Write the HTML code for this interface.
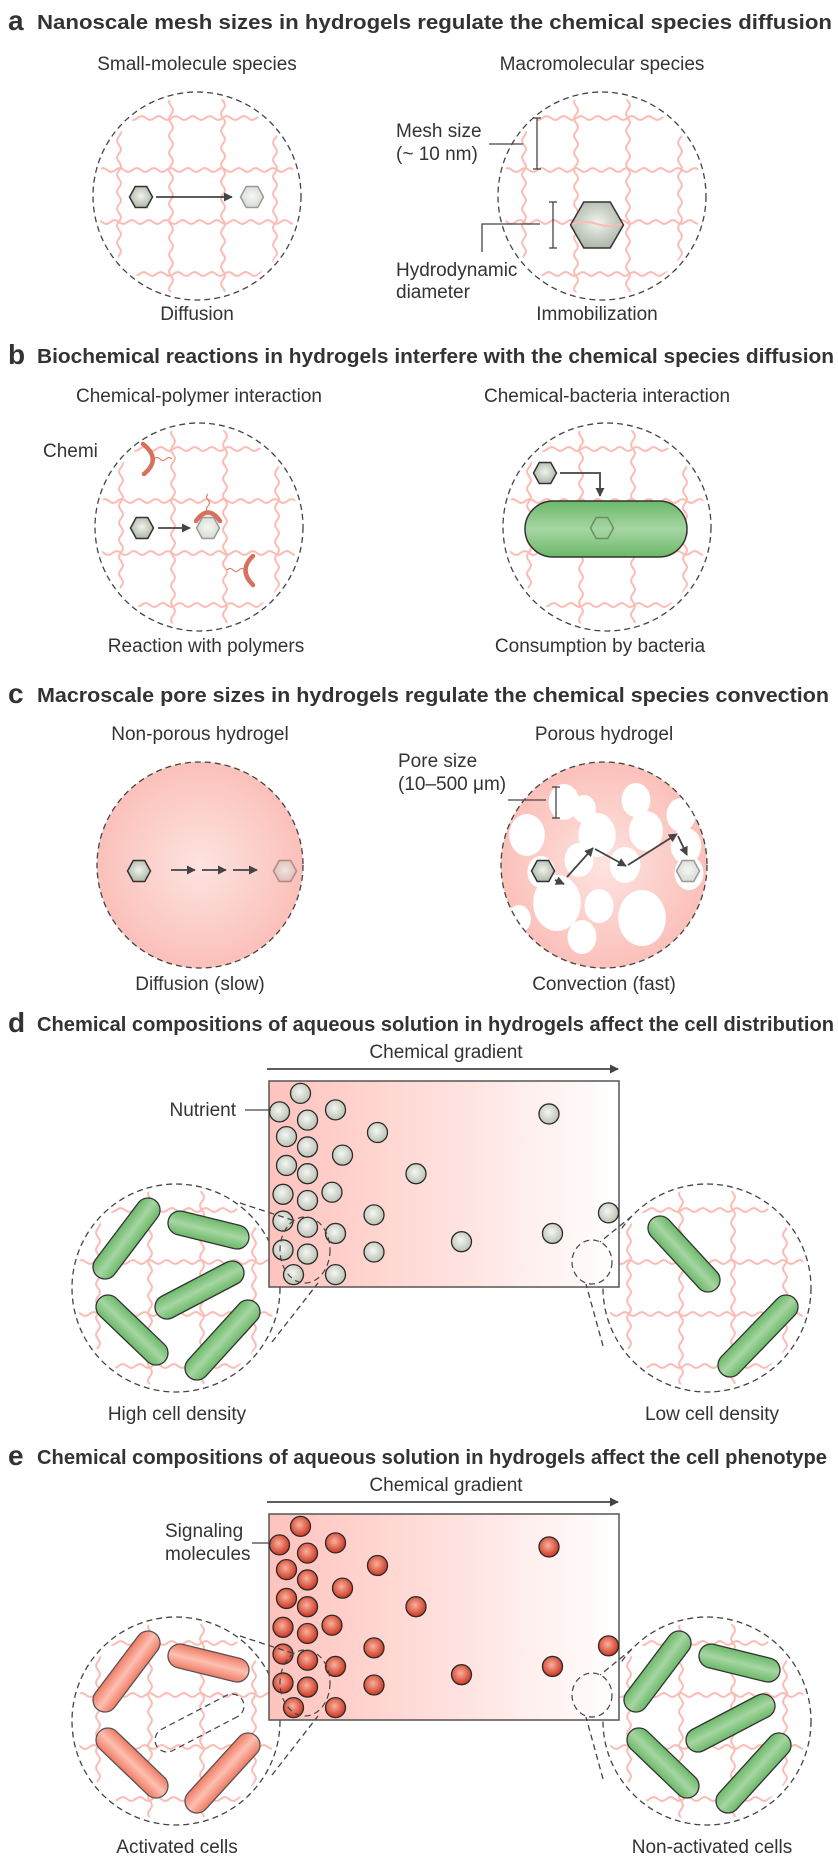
<!DOCTYPE html>
<html><head><meta charset="utf-8"><title>Hydrogel chemical species figure</title>
<style>
html,body{margin:0;padding:0;background:#fff;}
svg{display:block;}
text{font-family:"Liberation Sans",Arial,sans-serif;fill:#333;}
.title{font-weight:bold;font-size:20px;}
.letter{font-weight:bold;font-size:28px;}
.lab{font-size:19px;}
</style></head>
<body>
<svg id="fig" width="838" height="1861" viewBox="0 0 838 1861" xmlns="http://www.w3.org/2000/svg">
<defs>
<radialGradient id="gHexDark" cx="0.5" cy="0.45" r="0.6"><stop offset="0" stop-color="#f1f3ee"/><stop offset="1" stop-color="#a7b1a1"/></radialGradient>
<radialGradient id="gHexLight" cx="0.5" cy="0.45" r="0.6"><stop offset="0" stop-color="#f7f8f5"/><stop offset="1" stop-color="#d3d8cf"/></radialGradient>
<radialGradient id="gHexPink" cx="0.5" cy="0.45" r="0.6"><stop offset="0" stop-color="#f4e4e0"/><stop offset="1" stop-color="#d9b9b3"/></radialGradient>
<radialGradient id="gDot" cx="0.45" cy="0.42" r="0.6"><stop offset="0" stop-color="#f6f7f4"/><stop offset="1" stop-color="#b7c0b0"/></radialGradient>
<radialGradient id="gRed" cx="0.45" cy="0.42" r="0.6"><stop offset="0" stop-color="#fab19c"/><stop offset="1" stop-color="#c9311d"/></radialGradient>
<radialGradient id="gPink" cx="0.5" cy="0.5" r="0.55"><stop offset="0" stop-color="#fde3e0"/><stop offset="1" stop-color="#fbbdb6"/></radialGradient>
<linearGradient id="gRect" x1="0" y1="0" x2="1" y2="0"><stop offset="0" stop-color="#ffc3bd"/><stop offset="0.55" stop-color="#ffe3e0"/><stop offset="1" stop-color="#ffffff"/></linearGradient>
<linearGradient id="gGreen" x1="0" y1="0" x2="0" y2="1"><stop offset="0" stop-color="#6bb869"/><stop offset="0.5" stop-color="#a6d6a2"/><stop offset="1" stop-color="#6bb869"/></linearGradient>
<linearGradient id="gOrange" x1="0" y1="0" x2="0" y2="1"><stop offset="0" stop-color="#f07a62"/><stop offset="0.5" stop-color="#fdc0b2"/><stop offset="1" stop-color="#f07a62"/></linearGradient>
<marker id="arr" viewBox="0 0 10 10" refX="9" refY="5" markerWidth="5" markerHeight="5" orient="auto"><path d="M0,0 L10,5 L0,10 z" fill="#444"/></marker>
</defs>

<!-- Titles -->
<text class="letter" x="8" y="30">a</text>
<text class="title" x="37" y="29" textLength="795" lengthAdjust="spacingAndGlyphs">Nanoscale mesh sizes in hydrogels regulate the chemical species diffusion</text>
<text class="lab" x="197" y="70" text-anchor="middle">Small-molecule species</text>
<text class="lab" x="602" y="70" text-anchor="middle">Macromolecular species</text>
<text class="lab" x="197" y="320" text-anchor="middle">Diffusion</text>
<text class="lab" x="597" y="320" text-anchor="middle">Immobilization</text>
<text class="lab" x="396" y="137">Mesh size</text>
<text class="lab" x="396" y="160">(~ 10 nm)</text>
<text class="lab" x="396" y="276">Hydrodynamic</text>
<text class="lab" x="396" y="298">diameter</text>

<text class="letter" x="8" y="364">b</text>
<text class="title" x="37" y="363" textLength="797" lengthAdjust="spacingAndGlyphs">Biochemical reactions in hydrogels interfere with the chemical species diffusion</text>
<text class="lab" x="199" y="402" text-anchor="middle">Chemical-polymer interaction</text>
<text class="lab" x="607" y="402" text-anchor="middle">Chemical-bacteria interaction</text>
<text class="lab" x="43" y="457">Chemi</text>
<text class="lab" x="206" y="652" text-anchor="middle">Reaction with polymers</text>
<text class="lab" x="600" y="652" text-anchor="middle">Consumption by bacteria</text>

<text class="letter" x="8" y="703">c</text>
<text class="title" x="37" y="702" textLength="792" lengthAdjust="spacingAndGlyphs">Macroscale pore sizes in hydrogels regulate the chemical species convection</text>
<text class="lab" x="200" y="740" text-anchor="middle">Non-porous hydrogel</text>
<text class="lab" x="604" y="740" text-anchor="middle">Porous hydrogel</text>
<text class="lab" x="398" y="767">Pore size</text>
<text class="lab" x="398" y="790">(10–500 μm)</text>
<text class="lab" x="200" y="990" text-anchor="middle">Diffusion (slow)</text>
<text class="lab" x="604" y="990" text-anchor="middle">Convection (fast)</text>

<text class="letter" x="8" y="1032">d</text>
<text class="title" x="37" y="1031" textLength="797" lengthAdjust="spacingAndGlyphs">Chemical compositions of aqueous solution in hydrogels affect the cell distribution</text>
<text class="lab" x="446" y="1058" text-anchor="middle">Chemical gradient</text>
<text class="lab" x="236" y="1116" text-anchor="end">Nutrient</text>
<text class="lab" x="177" y="1420" text-anchor="middle">High cell density</text>
<text class="lab" x="712" y="1420" text-anchor="middle">Low cell density</text>

<text class="letter" x="8" y="1465">e</text>
<text class="title" x="37" y="1464" textLength="790" lengthAdjust="spacingAndGlyphs">Chemical compositions of aqueous solution in hydrogels affect the cell phenotype</text>
<text class="lab" x="446" y="1491" text-anchor="middle">Chemical gradient</text>
<text class="lab" x="165" y="1537">Signaling</text>
<text class="lab" x="165" y="1560">molecules</text>
<text class="lab" x="177" y="1853" text-anchor="middle">Activated cells</text>
<text class="lab" x="712" y="1853" text-anchor="middle">Non-activated cells</text>
</svg>
<script>
// Particle data: position along gradient (0-100 %) and depth in box (0-100 %)
const particleGradientPos = [9,3,19,11,5,31,80,11,21,5,11,42,4,11,18,30,4,11,19,97,81,55,4,11,30,7,19];
const particleDepthPos    = [6,15,14,19,27,25,16,32,36,41,45,45,55,58,54,65,68,71,74,64,74,78,82,84,83,94,94];

const NS = "http://www.w3.org/2000/svg";
const svg = document.getElementById('fig');

function make(tag, attrs, name, parent) {
  const el = document.createElementNS(NS, tag);
  for (const k in attrs) el.setAttribute(k, attrs[k]);
  
  
  (parent || svg).appendChild(el);
  return el;
}

let clipId = 0;
function mesh(cx, cy, r, name) {
  const id = 'clip' + (clipId++);
  const cp = make('clipPath', {id: id}, name + '-clip', svg.querySelector('defs'));
  make('circle', {cx: cx, cy: cy, r: r - 4}, name + '-clip-circle', cp);
  const g = make('g', {'clip-path': 'url(#' + id + ')', fill: 'none', stroke: '#fcbcb3', 'stroke-width': 2}, name, svg);
  const offs = [-78, -26, 26, 78];
  offs.forEach(function (o, i) {
    let dh = '', dv = '';
    for (let t = -r; t <= r; t += 2) {
      const w = 2 * Math.sin((t + i * 5) / 17 * 2 * Math.PI);
      dh += (t === -r ? 'M' : 'L') + (cx + t).toFixed(1) + ',' + (cy + o + w).toFixed(1);
      dv += (t === -r ? 'M' : 'L') + (cx + o + w).toFixed(1) + ',' + (cy + t).toFixed(1);
    }
    make('path', {d: dh}, name + '-strand-h', g);
    make('path', {d: dv}, name + '-strand-v', g);
  });
  return g;
}
function dashedCircle(cx, cy, r, name, fill) {
  return make('circle', {cx: cx, cy: cy, r: r, fill: fill || 'none', stroke: '#444', 'stroke-width': 1.3, 'stroke-dasharray': '6,4'}, name);
}
function hex(cx, cy, w, h, kind, name) {
  const pts = [[cx - w / 2, cy], [cx - w / 4, cy - h / 2], [cx + w / 4, cy - h / 2], [cx + w / 2, cy], [cx + w / 4, cy + h / 2], [cx - w / 4, cy + h / 2]];
  const fills = {dark: 'url(#gHexDark)', light: 'url(#gHexLight)', pink: 'url(#gHexPink)'};
  const strokes = {dark: '#333', light: '#9a9a9a', pink: '#b08a84'};
  return make('polygon', {points: pts.map(p => p.join(',')).join(' '), fill: fills[kind], stroke: strokes[kind], 'stroke-width': 1.5}, name);
}
function arrow(pts, name) {
  return make('polyline', {points: pts.map(p => p.join(',')).join(' '), fill: 'none', stroke: '#444', 'stroke-width': 1.8, 'marker-end': 'url(#arr)'}, name);
}
function line(x1, y1, x2, y2, name, dash) {
  const a = {x1: x1, y1: y1, x2: x2, y2: y2, stroke: '#444', 'stroke-width': 1.3};
  if (dash) a['stroke-dasharray'] = dash;
  return make('line', a, name);
}
function bracket(x, y1, y2, name) {
  const g = make('g', {stroke: '#444', 'stroke-width': 1.3}, name);
  make('line', {x1: x, y1: y1, x2: x, y2: y2}, name + '-bar', g);
  make('line', {x1: x - 4, y1: y1, x2: x + 4, y2: y1}, name + '-cap-top', g);
  make('line', {x1: x - 4, y1: y2, x2: x + 4, y2: y2}, name + '-cap-bottom', g);
}
function capsule(x1, y1, x2, y2, kind, name) {
  const cx = (x1 + x2) / 2, cy = (y1 + y2) / 2;
  const len = Math.hypot(x2 - x1, y2 - y1) + 24;
  const ang = Math.atan2(y2 - y1, x2 - x1) * 180 / Math.PI;
  const a = {x: -len / 2, y: -12, width: len, height: 24, rx: 12, transform: 'translate(' + cx + ',' + cy + ') rotate(' + ang + ')'};
  if (kind === 'green') { a.fill = 'url(#gGreen)'; a.stroke = '#333'; a['stroke-width'] = 1.3; }
  else if (kind === 'orange') { a.fill = 'url(#gOrange)'; a.stroke = '#555'; a['stroke-width'] = 1.3; }
  else { a.fill = 'none'; a.stroke = '#444'; a['stroke-width'] = 1.2; a['stroke-dasharray'] = '6,4'; }
  return make('rect', a, name);
}

// ---------- Panel a ----------
mesh(197, 196, 104, 'mesh-a-left');
dashedCircle(197, 196, 104, 'circle-a-left');
hex(141, 197, 23, 21, 'dark', 'small-molecule-start');
arrow([[156, 197], [232, 197]], 'diffusion-arrow');
hex(252, 197, 23, 21, 'light', 'small-molecule-end');

mesh(602, 196, 104, 'mesh-a-right');
dashedCircle(602, 196, 104, 'circle-a-right');
hex(597, 225, 53, 46, 'dark', 'macromolecule');
make('path', {d: 'M572,224 Q585,220 597,224 T622,224', fill: 'none', stroke: '#fcbcb3', 'stroke-width': 2}, 'mesh-over-macromolecule');
bracket(537, 118, 169, 'mesh-size-bracket');
line(489, 144, 523, 144, 'mesh-size-leader');
bracket(553, 202, 248, 'hydrodynamic-bracket');
make('polyline', {points: '482,252 482,224 540,224', fill: 'none', stroke: '#444', 'stroke-width': 1.3}, 'hydrodynamic-leader');

// ---------- Panel b ----------
mesh(199, 527, 104, 'mesh-b-left');
dashedCircle(199, 527, 104, 'circle-b-left');
hex(142, 528, 23, 21, 'dark', 'chemical-start-b');
arrow([[158, 528], [190, 528]], 'reaction-arrow');
hex(208, 528, 23, 21, 'light', 'chemical-bound');
const rc = {fill: 'none', stroke: '#d8705b', 'stroke-width': 4.5, 'stroke-linecap': 'round'};
const tail = {fill: 'none', stroke: '#d8705b', 'stroke-width': 1};
make('path', Object.assign({d: 'M143,444 Q162,459 144,474'}, rc), 'receptor-1');
make('path', Object.assign({d: 'M154,459 q3,-3 6,0 t6,0 t6,0'}, tail), 'receptor-1-tail');
make('path', Object.assign({d: 'M196,521 Q208,504 220,521'}, rc), 'receptor-2');
make('path', Object.assign({d: 'M208,512 q-3,-3 0,-6 t0,-6 t0,-6'}, tail), 'receptor-2-tail');
make('path', Object.assign({d: 'M253,556 Q238,570 253,585'}, rc), 'receptor-3');
make('path', Object.assign({d: 'M245,570 q-3,-3 -6,0 t-6,0 t-6,0'}, tail), 'receptor-3-tail');

mesh(607, 527, 104, 'mesh-b-right');
dashedCircle(607, 527, 104, 'circle-b-right');
hex(545, 473, 23, 21, 'dark', 'chemical-start-b-right');
arrow([[560, 473], [600, 473], [600, 496]], 'consumption-arrow');
make('rect', {x: 525, y: 501, width: 162, height: 56, rx: 28, fill: 'url(#gGreen)', stroke: '#333', 'stroke-width': 1.5}, 'bacterium-large');
hex(602, 528, 23, 21, 'light', 'chemical-consumed');
svg.lastChild.setAttribute('fill', 'none');
svg.lastChild.setAttribute('stroke', '#6f8a6c');

// ---------- Panel c ----------
make('circle', {cx: 200, cy: 865, r: 103, fill: 'url(#gPink)', stroke: '#444', 'stroke-width': 1.3, 'stroke-dasharray': '6,4'}, 'non-porous-hydrogel');
hex(139, 871, 23, 21, 'dark', 'chemical-start-c');
arrow([[171, 870], [195, 870]], 'slow-arrow-1');
arrow([[202, 870], [226, 870]], 'slow-arrow-2');
arrow([[233, 870], [257, 870]], 'slow-arrow-3');
hex(285, 871, 23, 21, 'pink', 'chemical-end-c');

const cpc = make('clipPath', {id: 'clipPorous'}, 'porous-clip', svg.querySelector('defs'));
make('circle', {cx: 604, cy: 865, r: 103}, 'porous-clip-circle', cpc);
make('circle', {cx: 604, cy: 865, r: 103, fill: 'url(#gPink)'}, 'porous-hydrogel');
const pg = make('g', {'clip-path': 'url(#clipPorous)', fill: '#fff'}, 'pores', svg);
const pores = [[564,802,18],[584,809,14],[636,800,17],[681,815,17],[527,835,21],[597,835,22],[646,831,20],[686,846,18],[579,860,17],[625,865,18],[541,872,16],[689,873,17],[557,903,28],[599,906,17],[642,918,28],[519,919,14],[582,937,17]];
pores.forEach(p => make('ellipse', {cx: p[0], cy: p[1], rx: p[2] * 0.85, ry: p[2]}, 'pore', pg));
dashedCircle(604, 865, 103, 'circle-c-right');
hex(543, 871, 23, 21, 'dark', 'chemical-start-porous');
arrow([[555, 880], [564, 884]], 'convection-arrow-1');
arrow([[567, 877], [593, 848]], 'convection-arrow-2');
arrow([[595, 849], [626, 866]], 'convection-arrow-3');
arrow([[628, 865], [677, 834]], 'convection-arrow-4');
arrow([[678, 836], [687, 855]], 'convection-arrow-5');
hex(688, 871, 23, 21, 'light', 'chemical-end-porous');
bracket(556, 787, 818, 'pore-size-bracket');
line(508, 800, 546, 800, 'pore-size-leader');

// ---------- Panels d & e ----------
function gradientBox(off, kind, prefix) {
  const x0 = 269, y0 = 1081 + off, w = 350, h = 206;
  arrow([[267, 1069 + off], [618, 1069 + off]], prefix + '-gradient-arrow');
  make('rect', {x: x0, y: y0, width: w, height: h, fill: 'url(#gRect)', stroke: '#555', 'stroke-width': 1.5}, prefix + '-gradient-box');
  const sx = v => x0 + v / 100 * w;
  const sy = v => y0 + v / 100 * h;
  particleGradientPos.forEach(function (gp, i) {
    make('circle', {cx: sx(gp), cy: sy(particleDepthPos[i]), r: 10, fill: kind === 'red' ? 'url(#gRed)' : 'url(#gDot)', stroke: '#2a2a2a', 'stroke-width': 1.3}, prefix + '-particle');
  });
}
const cellsA = [[148,1210,105,1267],[180,1223,237,1237],[232,1273,167,1307],[108,1307,156,1353],[248,1312,197,1368]];
const cellsB = [[660,1228,708,1280],[786,1307,730,1365]];

// d
mesh(176, 1288, 104, 'mesh-d-left');
dashedCircle(176, 1288, 104, 'circle-d-left');
cellsA.forEach(c => capsule(c[0], c[1], c[2], c[3], 'green', 'bacterium-d-left'));
mesh(707, 1288, 104, 'mesh-d-right');
dashedCircle(707, 1288, 104, 'circle-d-right');
cellsB.forEach(c => capsule(c[0], c[1], c[2], c[3], 'green', 'bacterium-d-right'));
gradientBox(0, 'gray', 'd');
line(245, 1110, 271, 1110, 'nutrient-leader');
function zoomLines(off, prefix) {
  make('ellipse', {cx: 305, cy: 1250 + off, rx: 25, ry: 33, fill: 'none', stroke: '#444', 'stroke-width': 1.2, 'stroke-dasharray': '6,4'}, prefix + '-zoom-left');
  line(240, 1203 + off, 292, 1220 + off, prefix + '-zoom-line-l1', '6,4');
  line(272, 1342 + off, 318, 1283 + off, prefix + '-zoom-line-l2', '6,4');
  make('ellipse', {cx: 592, cy: 1262 + off, rx: 20, ry: 22, fill: 'none', stroke: '#444', 'stroke-width': 1.2, 'stroke-dasharray': '6,4'}, prefix + '-zoom-right');
  line(632, 1216 + off, 600, 1242 + off, prefix + '-zoom-line-r1', '6,4');
  line(603, 1346 + off, 586, 1284 + off, prefix + '-zoom-line-r2', '6,4');
}
zoomLines(0, 'd');

// e
const E = 433;
mesh(176, 1288 + E, 104, 'mesh-e-left');
dashedCircle(176, 1288 + E, 104, 'circle-e-left');
cellsA.forEach((c, i) => capsule(c[0], c[1] + E, c[2], c[3] + E, i === 2 ? 'empty' : 'orange', 'bacterium-e-left'));
mesh(707, 1288 + E, 104, 'mesh-e-right');
dashedCircle(707, 1288 + E, 104, 'circle-e-right');
cellsA.forEach(c => capsule(c[0] + 531, c[1] + E, c[2] + 531, c[3] + E, 'green', 'bacterium-e-right'));
gradientBox(E, 'red', 'e');
line(252, 1543, 271, 1543, 'signaling-leader');
zoomLines(E, 'e');
</script>
</body></html>
